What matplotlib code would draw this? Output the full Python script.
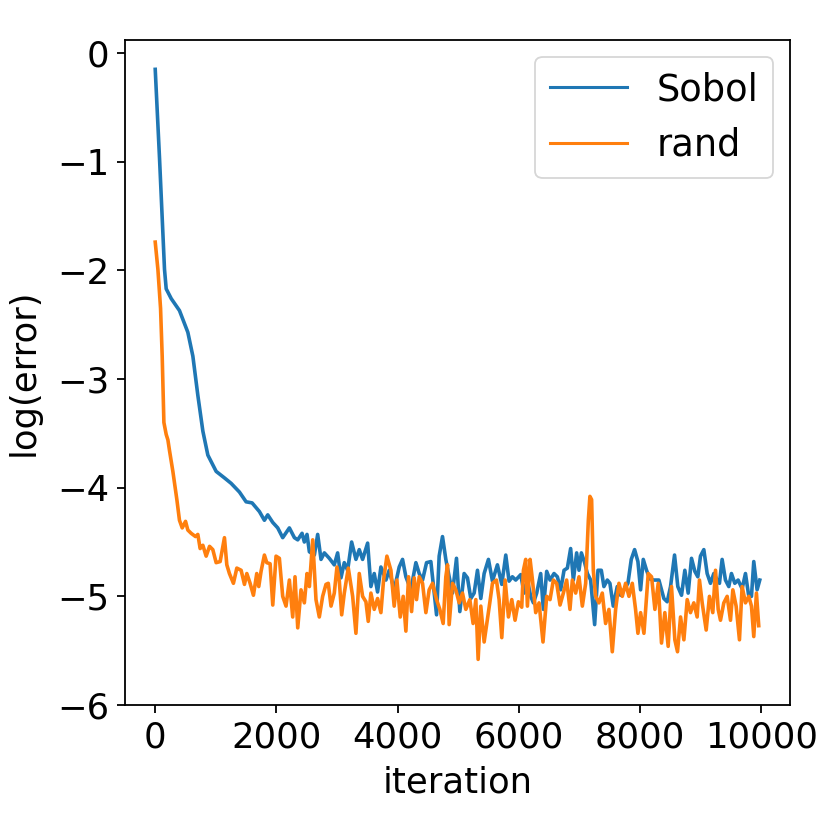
import matplotlib
matplotlib.use("Agg")
import matplotlib.pyplot as plt

sobol_iter = [0, 71, 115, 153, 181, 264, 400, 538, 621, 703, 786, 868, 1005, 1142, 1252, 1389, 1499, 1598, 1719, 1801, 1856,
              1939, 2021, 2103, 2213, 2296, 2351, 2422, 2460, 2504, 2543, 2625, 2680, 2735, 2790, 2872, 2954, 3009, 3064, 3119,
              3174, 3240, 3311, 3366, 3421, 3504, 3558, 3613, 3668, 3723, 3806, 3860, 3942, 4025, 4080, 4135, 4217, 4300, 4355,
              4410, 4476, 4547, 4602, 4641, 4684, 4739, 4794, 4849, 4904, 4970, 5025, 5096, 5151, 5206, 5261, 5316, 5371, 5426,
              5497, 5563, 5645, 5717, 5783, 5837, 5892, 5947, 6030, 6085, 6140, 6194, 6239, 6293, 6359, 6403, 6458, 6513, 6579,
              6634, 6689, 6744, 6799, 6853, 6898, 6952, 6991, 7030, 7084, 7129, 7183, 7249, 7304, 7359, 7402, 7458, 7501, 7556,
              7622, 7677, 7743, 7798, 7853, 7908, 7963, 8007, 8051, 8105, 8160, 8226, 8309, 8391, 8446, 8501, 8567, 8621, 8682,
              8737, 8792, 8847, 8902, 8951, 8995, 9050, 9105, 9160, 9215, 9270, 9308, 9352, 9407, 9462, 9506, 9561, 9616, 9682,
              9737, 9792, 9836, 9874, 9929, 9973]
sobol_log = [-0.15, -0.97, -1.52, -1.99, -2.17, -2.26, -2.37, -2.57, -2.79, -3.15, -3.48, -3.70, -3.85, -3.91, -3.96, -4.04, -4.13, -4.14, -4.22, -4.30, -4.25,
             -4.32, -4.37, -4.46, -4.37, -4.46, -4.48, -4.42, -4.50, -4.43, -4.59, -4.62, -4.43, -4.66, -4.60, -4.65, -4.71, -4.60, -4.83, -4.69,
             -4.76, -4.50, -4.66, -4.57, -4.66, -4.51, -4.91, -4.79, -4.96, -4.73, -4.85, -4.76, -4.94, -4.73, -4.66, -4.82, -4.94, -4.69, -4.79,
             -4.85, -4.69, -4.68, -4.97, -5.17, -4.63, -4.45, -4.66, -4.82, -4.97, -4.65, -5.14, -4.79, -4.83, -5.02, -4.97, -4.76, -5.02, -4.79,
             -4.66, -4.86, -4.71, -4.89, -4.62, -4.86, -4.82, -4.85, -4.80, -4.97, -4.85, -5.00, -5.06, -4.97, -4.79, -5.12, -4.77, -4.85, -4.79,
             -4.82, -4.94, -4.76, -4.74, -4.56, -4.85, -4.60, -4.76, -4.60, -4.69, -4.79, -4.85, -5.26, -4.76, -4.76, -4.91, -4.85, -4.88, -5.09,
             -4.91, -4.99, -4.93, -4.88, -4.66, -4.57, -4.68, -4.94, -4.66, -4.76, -4.84, -4.85, -4.85, -5.02, -5.05, -4.91, -4.62, -4.91, -4.99,
             -4.76, -4.97, -4.65, -4.77, -4.82, -4.63, -4.57, -4.79, -4.88, -4.79, -4.85, -4.88, -4.66, -4.85, -4.91, -4.79, -4.88, -4.85, -4.93,
             -4.79, -5.00, -5.00, -4.68, -4.94, -4.85]

rand_iter = [0, 44, 88, 115, 143, 181, 209, 236, 291, 357, 400, 445, 500, 538, 593, 665, 703, 741, 786, 840, 896, 950, 1005, 1071,
             1142, 1181, 1224, 1290, 1346, 1417, 1472, 1511, 1565, 1620, 1675, 1708, 1746, 1801, 1840, 1895, 1939, 1993, 2048, 2103,
             2158, 2213, 2268, 2306, 2351, 2405, 2460, 2504, 2543, 2598, 2652, 2707, 2762, 2817, 2855, 2900, 2954, 2998, 3037, 3076,
             3119, 3185, 3257, 3311, 3366, 3421, 3476, 3514, 3558, 3613, 3668, 3723, 3767, 3822, 3888, 3942, 3987, 4042, 4091, 4135,
             4179, 4229, 4272, 4311, 4355, 4410, 4465, 4519, 4575, 4641, 4695, 4750, 4794, 4822, 4849, 4904, 4959, 5014, 5069, 5124,
             5190, 5244, 5289, 5327, 5371, 5426, 5470, 5519, 5563, 5629, 5673, 5717, 5772, 5827, 5882, 5936, 5991, 6046, 6074, 6112,
             6140, 6184, 6223, 6277, 6332, 6397, 6458, 6513, 6568, 6623, 6678, 6733, 6787, 6842, 6881, 6936, 6991, 7046, 7101, 7145,
             7171, 7199, 7227, 7265, 7320, 7375, 7430, 7485, 7540, 7595, 7650, 7705, 7760, 7815, 7870, 7924, 7963, 8007, 8062, 8133,
             8188, 8243, 8298, 8352, 8407, 8462, 8517, 8572, 8616, 8666, 8721, 8776, 8830, 8885, 8940, 8978, 9023, 9089, 9143, 9198,
             9243, 9287, 9325, 9380, 9435, 9490, 9529, 9583, 9638, 9682, 9737, 9792, 9836, 9874, 9918, 9956]
rand_log = [-1.74, -1.99, -2.35, -2.79, -3.40, -3.51, -3.56, -3.66, -3.85, -4.11, -4.30, -4.37, -4.31, -4.39, -4.42, -4.45, -4.43, -4.56, -4.53, -4.63, -4.54, -4.57, -4.69, -4.68,
            -4.46, -4.71, -4.79, -4.88, -4.74, -4.76, -4.89, -4.79, -4.88, -4.99, -4.79, -4.91, -4.77, -4.62, -4.69, -4.70, -5.08, -4.63, -4.65, -5.00,
            -5.09, -4.85, -5.19, -4.82, -5.29, -4.94, -5.06, -4.79, -4.91, -4.48, -5.03, -5.19, -5.00, -4.89, -4.88, -5.09, -4.97, -4.73, -4.86, -5.17,
            -4.97, -4.74, -5.00, -5.34, -4.79, -5.00, -5.05, -5.23, -4.97, -5.12, -5.02, -5.15, -4.85, -4.63, -4.76, -5.09, -4.85, -5.19, -5.00, -5.32,
            -4.82, -5.14, -4.83, -5.03, -4.82, -4.88, -5.15, -4.94, -4.88, -5.03, -5.12, -5.25, -4.82, -4.71, -5.26, -4.88, -4.94, -5.06, -4.97, -5.12,
            -5.03, -5.25, -5.03, -5.58, -5.09, -5.42, -5.25, -5.06, -4.88, -4.85, -5.03, -5.38, -4.85, -5.19, -5.03, -5.22, -5.05, -5.10, -4.76, -4.66,
            -5.09, -4.66, -4.85, -5.15, -5.06, -5.42, -5.00, -5.03, -4.85, -4.88, -5.08, -4.97, -4.85, -5.12, -4.85, -4.97, -4.82, -5.09, -4.88, -4.30,
            -4.08, -4.11, -4.76, -5.00, -5.06, -4.97, -5.25, -5.12, -5.51, -5.12, -4.88, -5.00, -4.88, -5.00, -4.88, -5.12, -5.34, -5.15, -5.34, -4.79,
            -4.82, -5.12, -4.88, -5.43, -5.15, -5.46, -4.91, -5.40, -5.51, -5.19, -5.40, -5.03, -5.15, -5.06, -5.19, -4.85, -5.06, -5.31, -5.00, -5.15,
            -4.76, -5.12, -5.22, -5.06, -5.00, -5.22, -4.94, -5.09, -5.40, -4.91, -5.06, -5.00, -5.09, -5.37, -4.97, -5.27]

series_labels = ["Sobol", "rand"]

FS = 25.5
plt.rcParams['font.family'] = ['DejaVu Sans']
fig = plt.figure(figsize=(8.3, 8.3), dpi=100)
ax = fig.add_axes([0.1506, 0.1506, 0.8012, 0.8012])
ax.plot(sobol_iter, sobol_log, color='#1f77b4', lw=2.6, label=series_labels[0])
ax.plot(rand_iter, rand_log, color='#ff7f0e', lw=2.6, label=series_labels[1])
ax.set_ylim(-6, 0.12)
ax.set_xticks([0, 2000, 4000, 6000, 8000, 10000])
ax.set_yticks([0, -1, -2, -3, -4, -5, -6])
ax.tick_params(labelsize=FS, length=5.8, width=1.3, pad=5.6)
for s in ax.spines.values():
    s.set_linewidth(1.3)
ax.set_xlabel("iteration", fontsize=FS, labelpad=8)
ax.set_ylabel("log(error)", fontsize=FS, labelpad=12)
leg = ax.legend(fontsize=26.5, loc='upper right', borderaxespad=0.45, handlelength=2.1)
for h in leg.get_lines():
    h.set_linewidth(2.2)
leg.get_frame().set_linewidth(1.3)
fig.savefig("out.png", dpi=100)
